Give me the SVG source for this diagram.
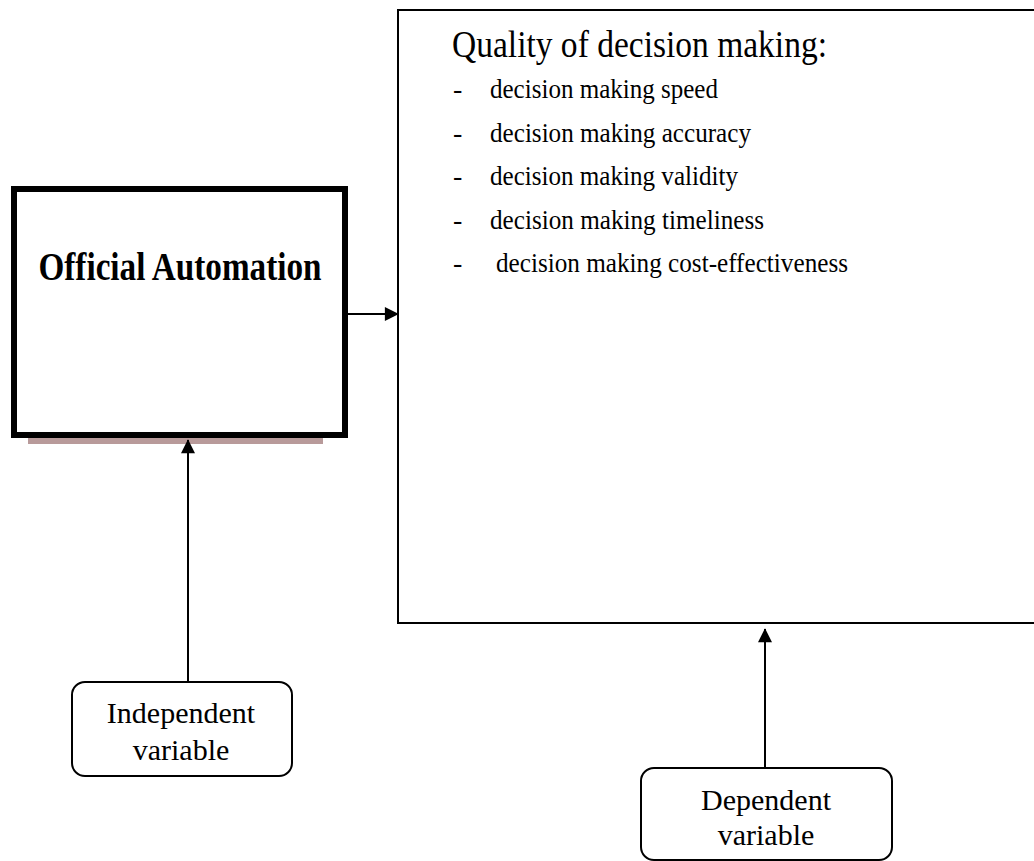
<svg xmlns="http://www.w3.org/2000/svg" width="1034" height="861" viewBox="0 0 1034 861">
<defs>
<style>
.serif{font-family:"Liberation Serif","Times New Roman",serif;fill:#000}
.item{font-size:28px}
.lbl{font-size:30px}
.line{stroke:#000;stroke-width:2;fill:none}
</style>
<marker id="ah" markerWidth="16" markerHeight="14" refX="15" refY="8" orient="auto" markerUnits="userSpaceOnUse" viewBox="0 0 16 16">
<path d="M0,0 L16,8 L0,16 z" fill="#000"/>
</marker>
</defs>
<rect width="1034" height="861" fill="#fff"/>
<g id="official-automation">
<rect x="28" y="438" width="295" height="6" fill="#b89a9a"/>
<rect x="14" y="189" width="331" height="246" fill="#fff" stroke="#000" stroke-width="6"/>
<text class="serif" x="180" y="280" font-size="41" font-weight="bold" text-anchor="middle" textLength="283" lengthAdjust="spacingAndGlyphs">Official Automation</text>
</g>
<g id="quality-decision-making">
<rect x="398" y="10" width="700" height="613" fill="#fff" stroke="#000" stroke-width="2"/>
<text class="serif" x="452" y="57" font-size="37" textLength="375" lengthAdjust="spacingAndGlyphs">Quality of decision making:</text>
<text class="serif item" x="453" y="98">-</text>
<text class="serif item" x="490" y="98" textLength="228" lengthAdjust="spacingAndGlyphs">decision making speed</text>
<text class="serif item" x="453" y="142">-</text>
<text class="serif item" x="490" y="142" textLength="261" lengthAdjust="spacingAndGlyphs">decision making accuracy</text>
<text class="serif item" x="453" y="185">-</text>
<text class="serif item" x="490" y="185" textLength="248" lengthAdjust="spacingAndGlyphs">decision making validity</text>
<text class="serif item" x="453" y="229">-</text>
<text class="serif item" x="490" y="229" textLength="274" lengthAdjust="spacingAndGlyphs">decision making timeliness</text>
<text class="serif item" x="453" y="272">-</text>
<text class="serif item" x="496" y="272" textLength="352" lengthAdjust="spacingAndGlyphs">decision making cost-effectiveness</text>
</g>
<g id="independent-variable">
<rect x="72" y="682" width="220" height="94" rx="13" ry="13" fill="#fff" stroke="#000" stroke-width="2"/>
<text class="serif lbl" x="181" y="723" text-anchor="middle">Independent</text>
<text class="serif lbl" x="181" y="760" text-anchor="middle">variable</text>
</g>
<g id="dependent-variable">
<rect x="641" y="768" width="251" height="92" rx="13" ry="13" fill="#fff" stroke="#000" stroke-width="2"/>
<text class="serif lbl" x="766" y="810" text-anchor="middle">Dependent</text>
<text class="serif lbl" x="766" y="845" text-anchor="middle">variable</text>
</g>
<g id="connectors">
<line class="line" x1="348" y1="314" x2="398" y2="314" marker-end="url(#ah)"/>
<line class="line" x1="188" y1="682" x2="188" y2="440" marker-end="url(#ah)"/>
<line class="line" x1="765" y1="768" x2="765" y2="629" marker-end="url(#ah)"/>
</g>
</svg>
